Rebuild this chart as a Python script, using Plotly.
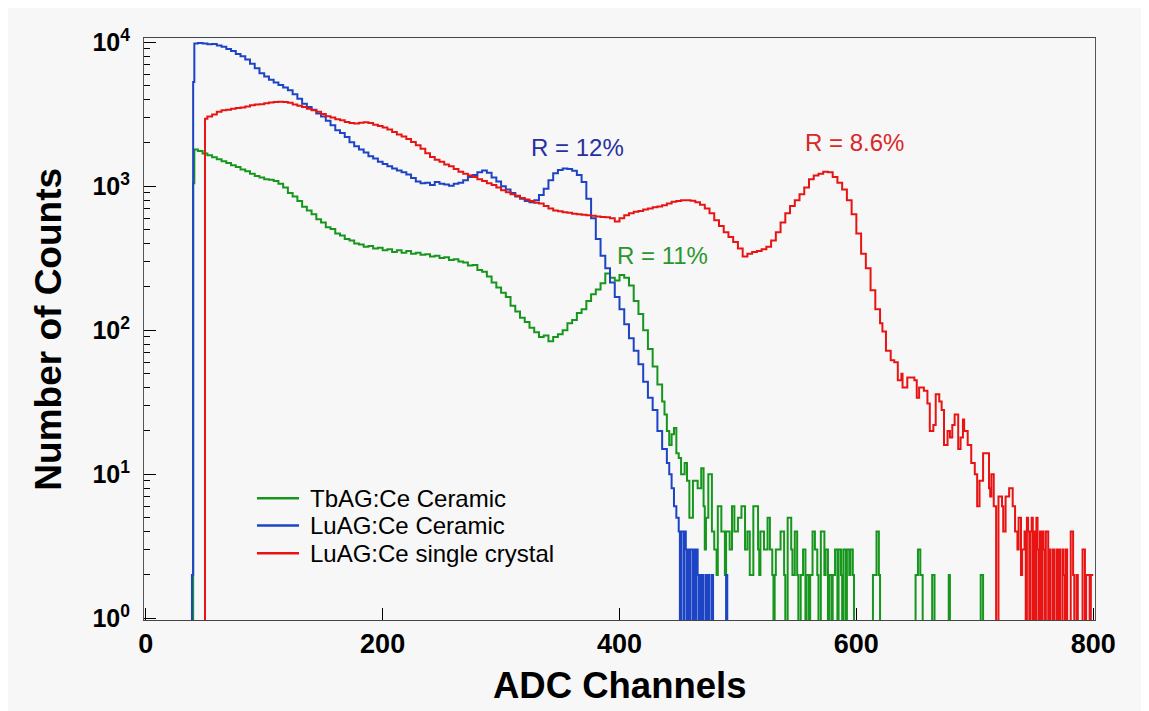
import math
import plotly.graph_objects as go

# ---------------- data (histogram bins: channel where a bin value starts, counts) -------------
tbag_ch = [0, 40, 41, 44, 48, 52, 56, 60, 64, 68, 72, 76, 80, 84, 88, 92, 96, 100, 104, 108, 112, 116, 120, 124,
           128, 132, 136, 140, 144, 148, 152, 156, 160, 164, 168, 172, 176, 180, 184, 188, 192, 196, 200, 204,
           208, 212, 216, 220, 224, 228, 232, 236, 240, 244, 248, 252, 256, 260, 264, 268, 272, 276, 280, 284,
           288, 292, 296, 300, 304, 308, 312, 316, 320, 324, 328, 332, 336, 340, 344, 348, 352, 356, 360, 364,
           368, 372, 376, 380, 384, 388, 392, 396, 400, 404, 408, 412, 416, 420, 424, 428, 432, 436, 438, 440,
           442, 444, 446, 448, 450, 452, 455, 457, 459, 462, 466, 469, 471, 472, 473, 475, 478, 480, 482, 483,
           486, 489, 490, 493, 495, 497, 500, 503, 506, 508, 510, 513, 517, 518, 519, 522, 525, 527, 529, 530,
           531, 532, 536, 539, 540, 542, 545, 546, 548, 550, 551, 553, 555, 557, 558, 560, 561, 563, 565, 567,
           568, 570, 573, 574, 576, 577, 579, 580, 582, 584, 585, 587, 588, 589, 591, 592, 594, 595, 597, 598,
           614, 617, 619, 620, 650, 652, 654, 656, 664, 666, 678, 679, 705, 707, 800]
tbag_counts = [0, 1050, 1800, 1760, 1690, 1640, 1590, 1540, 1490, 1450, 1400, 1360, 1310, 1270, 1220, 1180, 1150,
               1120, 1110, 1090, 1040, 980, 900, 850, 790, 720, 680, 640, 590, 560, 520, 505, 470, 455, 430, 420,
               400, 395, 380, 385, 370, 375, 360, 365, 350, 360, 345, 355, 340, 345, 335, 338, 325, 330, 318, 322,
               308, 312, 300, 296, 282, 284, 262, 255, 236, 215, 198, 182, 170, 148, 135, 122, 114, 104, 97, 90,
               92, 84, 90, 94, 100, 112, 118, 132, 140, 160, 178, 192, 212, 248, 232, 222, 242, 232, 205, 160, 130,
               100, 74, 56, 42, 32, 26, 20, 16, 19, 21, 14, 13, 10, 12, 9, 5, 9, 8, 11, 6, 3, 5, 10, 4, 3, 2, 6,
               4, 2, 4, 3, 6, 4, 5, 6, 3, 4, 2, 6, 3, 2, 4, 3, 5, 3, 2, 0,
               2, 3, 4, 2, 0, 5, 3, 2, 4, 2, 0, 2, 3, 0, 2, 0, 2, 4, 3, 2,
               0, 4, 2, 3, 0, 2, 0, 2, 3, 0, 3, 2, 0, 3, 0, 3, 2, 3, 2, 0,
               2, 4, 2, 0, 2, 3, 2, 0, 2, 0, 2, 0, 2, 0, 0]

luag_cer_ch = [0, 39, 40, 41, 44, 48, 52, 56, 60, 64, 68, 72, 76, 80, 84, 88, 92, 96, 100, 104, 108, 112, 116, 120,
               124, 128, 132, 136, 140, 144, 148, 152, 156, 160, 164, 168, 172, 176, 180, 184, 188, 192, 196, 200,
               204, 208, 212, 216, 220, 224, 228, 232, 236, 240, 244, 248, 252, 256, 260, 264, 268, 272, 276, 280,
               284, 288, 292, 296, 300, 304, 308, 312, 316, 320, 324, 328, 332, 336, 340, 344, 348, 352, 356, 360,
               364, 368, 372, 376, 380, 384, 388, 392, 396, 400, 404, 408, 412, 416, 420, 424, 428, 432, 436, 440,
               442, 444, 446, 448, 450, 451, 452, 454, 455, 456, 457, 458, 459, 460, 462, 463, 464, 465, 466, 467,
               468, 469, 470, 471, 473, 474, 475, 476, 478, 479, 490, 491, 800]
luag_cer_counts = [0, 2, 5300, 9800, 9900, 9800, 9700, 9750, 9500, 9300, 9000, 8700, 8300, 8000, 7600, 7100, 6600,
                   6100, 5800, 5500, 5250, 5050, 4850, 4650, 4350, 4050, 3750, 3550, 3400, 3200, 3050, 2850, 2650,
                   2450, 2350, 2200, 2020, 1900, 1800, 1720, 1620, 1560, 1480, 1430, 1380, 1330, 1290, 1250, 1210,
                   1140, 1080, 1050, 1060, 1020, 1070, 1040, 1030, 1010, 1040, 1060, 1100, 1160, 1200, 1250, 1290,
                   1240, 1150, 1080, 1000, 950, 900, 850, 820, 790, 775, 800, 870, 960, 1100, 1230, 1300, 1330,
                   1320, 1280, 1200, 1070, 820, 600, 430, 330, 270, 215, 170, 140, 110, 88, 72, 58, 44, 34, 28, 20,
                   15, 12, 10, 8, 6, 5, 4, 0, 4, 0, 4, 3, 0, 3, 0, 3, 0, 3, 0, 3, 2, 0, 2, 0, 2, 0, 2, 0, 2, 0, 2,
                   0, 2, 0, 0]

luag_sc_ch = [0, 50, 52, 56, 60, 64, 68, 72, 76, 80, 84, 88, 92, 96, 100, 104, 108, 112, 116, 120, 124, 128, 132,
              136, 140, 144, 148, 152, 156, 160, 164, 168, 172, 176, 180, 184, 188, 192, 196, 200, 204, 208, 212,
              216, 220, 224, 228, 232, 236, 240, 244, 248, 252, 256, 260, 264, 268, 272, 276, 280, 284, 288, 292,
              296, 300, 304, 308, 312, 316, 320, 324, 328, 332, 336, 340, 344, 348, 352, 356, 360, 364, 368, 372,
              376, 380, 384, 388, 392, 396, 400, 404, 408, 412, 416, 420, 424, 428, 432, 436, 440, 444, 448, 452,
              456, 460, 464, 468, 472, 476, 480, 484, 488, 492, 496, 500, 504, 508, 512, 516, 520, 524, 528, 532,
              536, 540, 544, 548, 552, 556, 560, 564, 568, 572, 576, 580, 584, 588, 592, 596, 600, 604, 608, 612,
              616, 620, 622, 625, 629, 632, 635, 638, 639, 643, 649, 651, 653, 657, 660, 662, 665, 667, 670, 672,
              674, 677, 679, 681, 683, 686, 688, 690, 691, 694, 697, 700, 702, 704, 707, 711, 712, 713, 714, 716,
              718, 720, 723, 724, 726, 729, 732, 734, 736, 737, 739, 740, 742, 743, 744, 745, 746, 747, 748, 749,
              750, 751, 752, 753, 754, 755, 756, 757, 758, 759, 760, 761, 762, 763, 764, 766, 767, 769, 770, 771,
              772, 774, 775, 776, 777, 778, 781, 783, 784, 786, 787, 791, 793, 794, 797, 798, 800]
luag_sc_counts = [0, 2950, 3050, 3150, 3300, 3380, 3400, 3450, 3500, 3530, 3580, 3650, 3700, 3720, 3780, 3820, 3850,
                  3870, 3850, 3800, 3700, 3620, 3550, 3450, 3380, 3300, 3180, 3060, 3000, 2920, 2880, 2800, 2750,
                  2730, 2760, 2780, 2750, 2680, 2620, 2560, 2480, 2380, 2290, 2220, 2130, 2030, 1930, 1820, 1700,
                  1600, 1530, 1480, 1420, 1380, 1320, 1260, 1220, 1190, 1160, 1120, 1090, 1050, 1020, 980, 940, 910,
                  880, 860, 830, 810, 790, 770, 760, 730, 700, 680, 670, 660, 655, 646, 640, 635, 630, 625, 618,
                  612, 610, 600, 570, 600, 630, 650, 665, 675, 690, 700, 715, 725, 740, 760, 780, 790, 800, 800,
                  795, 775, 745, 700, 650, 580, 530, 480, 445, 410, 370, 325, 340, 350, 355, 365, 380, 420, 480,
                  560, 650, 730, 800, 880, 980, 1120, 1190, 1220, 1260, 1250, 1160, 1060, 950, 800, 640, 470, 340,
                  270, 190, 140, 112, 98, 72, 62, 60, 45, 50, 40, 47, 45, 34, 40, 38, 31, 20, 22, 36, 32, 28, 16,
                  20, 18, 22, 26, 15, 18, 24, 20, 16, 12, 10, 6, 9, 14, 14, 8, 7, 10, 6, 0, 7, 6, 4, 7, 8, 6, 4, 3,
                  5, 2, 3, 4, 0, 5, 4, 0, 4, 5, 0, 4, 0, 5, 3, 0, 4, 0, 4, 3, 0, 4, 4, 0, 3, 0, 3, 0, 3, 0, 3, 0, 3,
                  2, 0, 3, 0, 4, 2, 0, 2, 0, 3, 0, 2, 0, 2, 2]

series_names = ["TbAG:Ce Ceramic", "LuAG:Ce Ceramic", "LuAG:Ce single crystal"]
resolution_labels = ["R = 11%", "R = 12%", "R = 8.6%"]
x_tick_vals = [0, 200, 400, 600, 800]
y_tick_vals = [1, 10, 100, 1000, 10000]
y_tick_text = ["10<sup>0</sup>", "10<sup>1</sup>", "10<sup>2</sup>", "10<sup>3</sup>", "10<sup>4</sup>"]
y_minor_vals = [m * 10 ** k for k in range(4) for m in range(2, 10)]

# ---------------- styling ----------------
colors = ["#16961c", "#1c44c4", "#e81414"]
label_colors = ["#2a962e", "#26309e", "#d82828"]
FONT = "Liberation Sans, Arial, sans-serif"


def shown(counts):
    # empty bins are drawn below the axis floor (clipped), like the original log-scale histogram
    return [c if c > 0 else 0.5 for c in counts]


fig = go.Figure()
for ch, cnt, name, col in [(tbag_ch, tbag_counts, series_names[0], colors[0]),
                           (luag_cer_ch, luag_cer_counts, series_names[1], colors[1]),
                           (luag_sc_ch, luag_sc_counts, series_names[2], colors[2])]:
    fig.add_trace(go.Scatter(x=ch, y=shown(cnt), mode="lines", name=name, showlegend=False,
                             line=dict(color=col, width=2, shape="hv")))

# peak resolution labels (data coordinates; log axis -> log10 of the count level)
label_pos = [(436, 330), (364.5, 1850), (598.5, 2000)]
for (lx, ly), txt, col in zip(label_pos, resolution_labels, label_colors):
    fig.add_annotation(x=lx, y=math.log10(ly), xref="x", yref="y", text=txt, showarrow=False,
                       font=dict(family=FONT, size=24, color=col))

# legend (drawn as line samples + labels to match the original compact layout)
legend_rows = [0.2094, 0.1624, 0.1149]
for ly, name, col in zip(legend_rows, series_names, colors):
    fig.add_shape(type="line", xref="paper", yref="paper", x0=0.1188, x1=0.163, y0=ly, y1=ly,
                  line=dict(color=col, width=2.5))
    fig.add_annotation(x=0.1725, y=ly, xref="paper", yref="paper", text=name, showarrow=False,
                       xanchor="left", yanchor="middle",
                       font=dict(family=FONT, size=24, color="black"))

# axis titles
fig.add_annotation(x=0.5, y=-0.152, xref="paper", yref="paper", text="<b>ADC Channels</b>",
                   showarrow=False, font=dict(family=FONT, size=36.5, color="black"))
fig.add_annotation(x=-0.125, y=0.5, xref="paper", yref="paper", text="<b>Number of Counts</b>",
                   textangle=-90, showarrow=False, font=dict(family=FONT, size=37, color="black"))

fig.update_layout(
    width=1149, height=711,
    margin=dict(l=136, r=62, t=30, b=99),
    paper_bgcolor="#f7f7f7", plot_bgcolor="#f7f7f7",
    showlegend=False,
)
fig.update_xaxes(range=[-1.5, 801.5], tickvals=x_tick_vals, ticks="inside", ticklen=12, tickcolor="black",
                 showline=True, linecolor="#444444", linewidth=1, mirror=True, showgrid=False, zeroline=False,
                 tickfont=dict(family=FONT, size=27, color="black", weight="bold"))
fig.update_yaxes(type="log", range=[-0.012, 4.03], tickvals=y_tick_vals, ticktext=y_tick_text,
                 ticks="inside", ticklen=12, tickcolor="black", ticklabelstandoff=8,
                 minor=dict(tickvals=y_minor_vals, ticks="inside", ticklen=6, tickcolor="black"),
                 showline=True, linecolor="#555555", linewidth=1, mirror=True, showgrid=False, zeroline=False,
                 tickfont=dict(family=FONT, size=25, color="black", weight="bold"))

fig.write_html("out.html")
